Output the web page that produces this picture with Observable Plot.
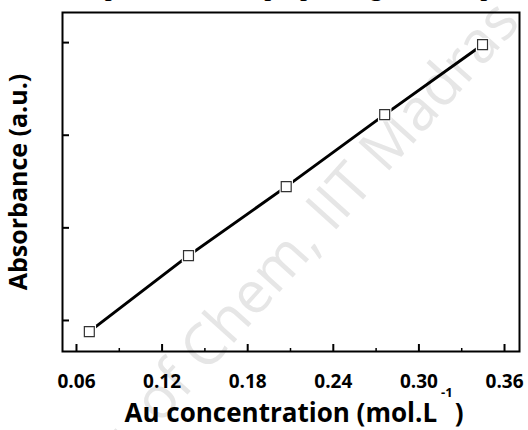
<!DOCTYPE html>
<html>
<head>
<meta charset="utf-8">
<script src="https://cdn.jsdelivr.net/npm/d3@7"></script>
<script src="https://cdn.jsdelivr.net/npm/@observablehq/plot@0.6"></script>
<style>
  html, body { margin: 0; padding: 0; background: #fff; }
  #chart svg { display: block; overflow: hidden; }
</style>
</head>
<body>
<div id="chart"></div>
<script>
// ---- data ----
const concentration = [0.069, 0.1385, 0.207, 0.276, 0.3446];   // mol.L^-1
const absorbance    = [0.176, 0.340, 0.489, 0.6445, 0.7955];    // a.u. (unlabelled axis)
const xTicks  = [0.06, 0.12, 0.18, 0.24, 0.30, 0.36];
const xMinor  = [0.09, 0.15, 0.21, 0.27, 0.33];
const yTicks  = [0.2, 0.4, 0.6, 0.8];
const xDomain = [0.0502, 0.3705];
const yDomain = [0.133, 0.865];
const titleText = "UV-Vis spectrum of as prepared gold nanoparticles";
const xTitle = "Au concentration (mol.L";
const yTitle = "Absorbance (a.u.)";
const watermark = "Dept. of Chem, IIT Madras";

const data = concentration.map((c, i) => ({c, a: absorbance[i]}));

const W = 528, H = 430, mL = 62, mR = 9, mT = 12, mB = 79;
const fw = W - mL - mR, fh = H - mT - mB;
const font = "'Open Sans', sans-serif";

const plot = Plot.plot({
  width: W, height: H,
  marginLeft: mL, marginRight: mR, marginTop: mT, marginBottom: mB,
  x: {domain: xDomain, axis: null},
  y: {domain: yDomain, axis: null},
  style: {fontFamily: font, background: "white", overflow: "hidden"},
  marks: [
    // ticks (inside)
    Plot.tickX(xTicks, {x: d => d, insetTop: fh - 7, stroke: "black", strokeWidth: 2}),
    Plot.tickX(xMinor, {x: d => d, insetTop: fh - 3, stroke: "black", strokeWidth: 1.5}),
    Plot.tickY(yTicks, {y: d => d, insetRight: fw - 7, stroke: "black", strokeWidth: 2}),
    Plot.frame({stroke: "black", strokeWidth: 2}),
    // tick labels
    Plot.text(xTicks, {x: d => d, frameAnchor: "bottom", dy: 23, lineAnchor: "top",
      text: d => d.toFixed(2), fontSize: 19, fontWeight: "bold", fill: "black"}),
    // series
    Plot.line(data, {x: "c", y: "a", stroke: "black", strokeWidth: 3}),
    Plot.dot(data, {x: "c", y: "a", symbol: "square", r: 7.6, fill: "white", stroke: null}),
    Plot.dot(data, {x: "c", y: "a", symbol: "square", r: 5.6, fill: "white", stroke: "#333", strokeWidth: 1.2}),
    // axis titles
    Plot.text([xTitle], {frameAnchor: "bottom", dx: 3, dy: 52, lineAnchor: "top",
      text: d => d, fontSize: 26, fontWeight: "bold", fill: "black"}),
    Plot.text([yTitle], {frameAnchor: "left", dx: -43.5, rotate: -90, lineAnchor: "middle", textAnchor: "middle",
      text: d => d, fontSize: 25, fontWeight: "bold", fill: "black"}),
    // cut-off caption at top
    Plot.text([titleText], {frameAnchor: "top-left", dx: -60, dy: -37, lineAnchor: "top", textAnchor: "start",
      text: d => d, fontSize: 28, fontFamily: "'Liberation Serif', 'Times New Roman', serif", fill: "black"})
  ]
});

const svg = d3.select(plot);
// superscript on the x title
svg.selectAll("text").filter(function() { return this.textContent === xTitle; })
  .each(function() {
    const t = d3.select(this);
    t.append("tspan").attr("dx", 4).attr("dy", -25).attr("font-size", 13).text("-1");
    t.append("tspan").attr("dx", 2).attr("dy", 25).text(")");
  });
// faint watermark behind everything
svg.insert("text", ":first-child")
  .attr("transform", "translate(52,545) rotate(-48)")
  .attr("text-anchor", "start")
  .attr("font-family", font)
  .attr("font-size", 58)
  .attr("fill", "#e6e6e6")
  .text(watermark);

document.getElementById("chart").appendChild(plot);
</script>
</body>
</html>
